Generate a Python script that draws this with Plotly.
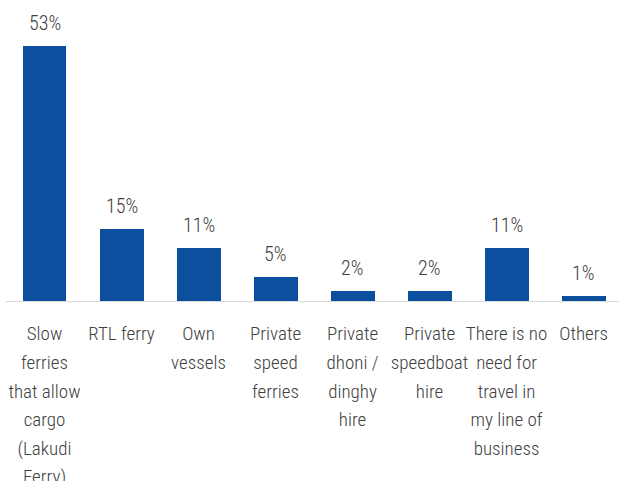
import plotly.graph_objects as go

categories = [
    "Slow<br>ferries<br>that allow<br>cargo<br>(Lakudi<br>Ferry)",
    "RTL ferry",
    "Own<br>vessels",
    "Private<br>speed<br>ferries",
    "Private<br>dhoni /<br>dinghy<br>hire",
    "Private<br>speedboat<br>hire",
    "There is no<br>need for<br>travel in<br>my line of<br>business",
    "Others",
]
values = [53, 15, 11, 5, 2, 2, 11, 1]
value_labels = ["53%", "15%", "11%", "5%", "2%", "2%", "11%", "1%"]

FONT = "Roboto Condensed, sans-serif"
TEXT_COLOR = "#404040"
BAR_COLOR = "#0D4F9F"
GLYPH_SIZE = 19     # visible glyph size of category labels
LINE_FONT = 22      # font size that sets the category label line spacing

x = list(range(len(categories)))
ticktext = [
    "<br>".join(f"<span style='font-size:{GLYPH_SIZE}px'>{ln}</span>" for ln in c.split("<br>"))
    for c in categories
]

fig = go.Figure()
fig.add_trace(go.Bar(
    x=x, y=values, width=0.571,
    marker=dict(color=BAR_COLOR, line=dict(width=0)),
    hoverinfo="skip",
))

for xi, v, lab in zip(x, values, value_labels):
    fig.add_annotation(x=xi, y=v, text=lab, showarrow=False,
                       yanchor="bottom", yshift=9,
                       font=dict(family=FONT, size=20, color=TEXT_COLOR, weight=300))

fig.update_layout(
    width=619, height=481,
    margin=dict(l=6, r=0, t=0, b=180, autoexpand=False),
    paper_bgcolor="white", plot_bgcolor="white",
    showlegend=False,
    bargap=0,
    font=dict(family=FONT, size=20, color=TEXT_COLOR, weight=300),
)
fig.update_xaxes(
    range=[-0.5, 7.46],
    tickmode="array", tickvals=x, ticktext=ticktext,
    showline=True, linecolor="#D9D9D9", linewidth=1,
    showgrid=False, zeroline=False, ticks="",
    ticklabelstandoff=12,
    ticklabeloverflow="allow",
    automargin=False,
    tickfont=dict(family=FONT, size=LINE_FONT, color=TEXT_COLOR, weight=300),
    tickangle=0,
)
fig.update_yaxes(range=[0, 62.56], visible=False, showgrid=False, zeroline=False,
                 automargin=False)

fig.write_html("out.html")
